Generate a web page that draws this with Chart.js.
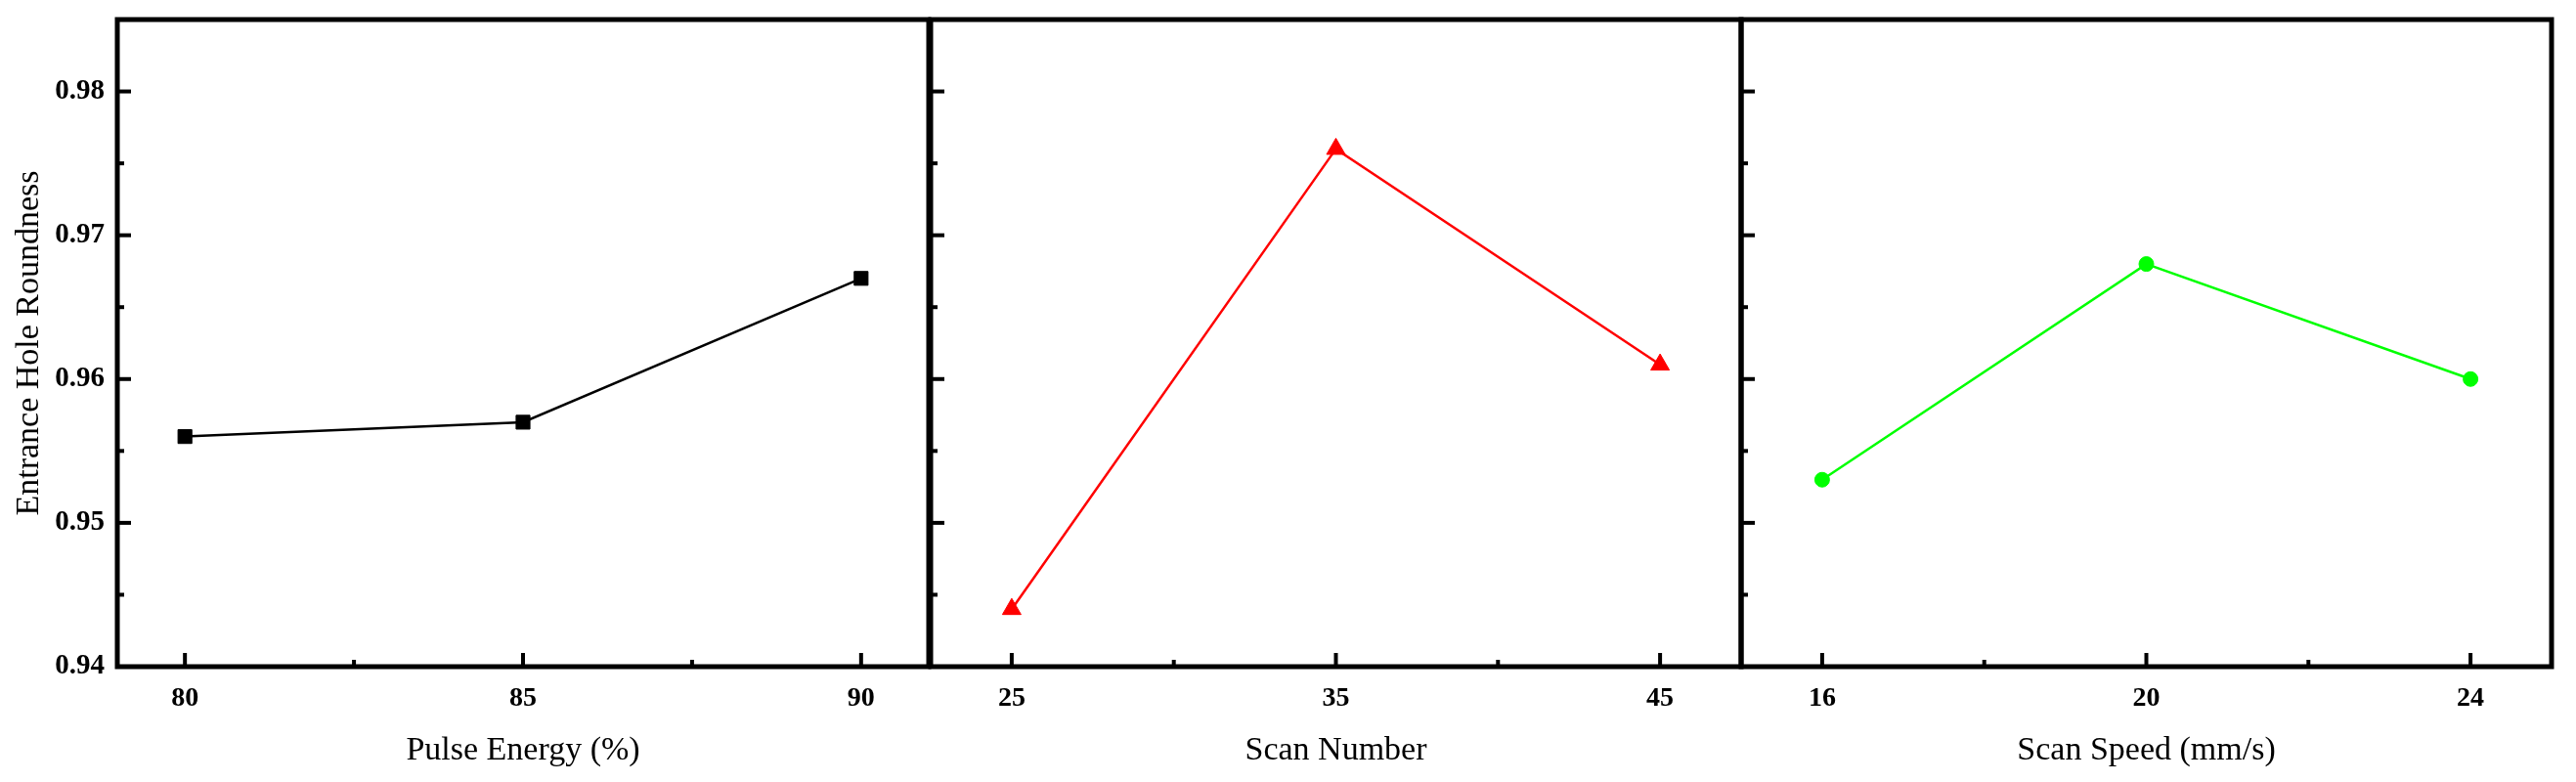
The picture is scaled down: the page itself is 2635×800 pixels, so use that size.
<!DOCTYPE html>
<html>
<head>
<meta charset="utf-8">
<script src="https://cdn.jsdelivr.net/npm/chart.js@4.4.1/dist/chart.umd.min.js"></script>
<style>
  html, body { margin: 0; padding: 0; background: #fff; }
  #wrap { position: relative; width: 2635px; height: 800px; overflow: hidden; }
  canvas { position: absolute; top: 0; }
</style>
</head>
<body>
<div id="wrap">
  <canvas id="energyChart" width="962" height="800" style="left:0px"></canvas>
  <canvas id="numberChart" width="853" height="800" style="left:940px"></canvas>
  <canvas id="speedChart" width="851" height="800" style="left:1771px"></canvas>
</div>
<script>
const energyLevels = [80, 85, 90];
const energyRoundness = [0.956, 0.957, 0.967];
const scanNumbers = [25, 35, 45];
const numberRoundness = [0.944, 0.976, 0.961];
const scanSpeeds = [16, 20, 24];
const speedRoundness = [0.953, 0.968, 0.960];
const roundnessTicks = [0.94, 0.95, 0.96, 0.97, 0.98];

const serif = "'Liberation Serif', 'Times New Roman', serif";

const midpoints = arr => arr.slice(1).map((v, i) => (v + arr[i]) / 2);

// Origin-style frame with inward major/minor ticks
const framePlugin = {
  id: 'frame',
  afterDraw: chart => {
    const {ctx, chartArea: a, scales: {x, y}} = chart;
    const line = (x1, y1, x2, y2) => {
      ctx.beginPath();
      ctx.moveTo(x1, y1);
      ctx.lineTo(x2, y2);
      ctx.stroke();
    };
    ctx.save();
    ctx.strokeStyle = '#000';
    ctx.lineWidth = 4;
    const xv = x.ticks.map(t => t.value);
    const yv = y.ticks.map(t => t.value);
    xv.forEach(v => { const p = x.getPixelForValue(v); line(p, a.bottom, p, a.bottom - 14); });
    midpoints(xv).forEach(v => { const p = x.getPixelForValue(v); line(p, a.bottom, p, a.bottom - 7); });
    yv.forEach(v => { const p = y.getPixelForValue(v); line(a.left, p, a.left + 14, p); });
    midpoints(yv).forEach(v => { const p = y.getPixelForValue(v); line(a.left, p, a.left + 7, p); });
    ctx.lineWidth = 5;
    ctx.strokeRect(a.left, a.top, a.right - a.left, a.bottom - a.top);
    ctx.restore();
  }
};

const makePanel = (id, xValues, yValues, xTitle, xMin, xMax, color, style, radius, first) => {
  return new Chart(document.getElementById(id), {
    type: 'line',
    data: {
      datasets: [{
        data: xValues.map((v, i) => ({x: v, y: yValues[i]})),
        borderColor: color,
        backgroundColor: color,
        borderWidth: 2.5,
        pointStyle: style,
        pointRadius: radius,
        pointBorderWidth: 1,
        pointBorderColor: color,
        pointBackgroundColor: color
      }]
    },
    options: {
      responsive: false,
      animation: false,
      events: [],
      layout: { padding: { top: 20, right: 12, left: 0, bottom: 0 } },
      plugins: { legend: { display: false }, tooltip: { enabled: false } },
      scales: {
        x: {
          type: 'linear',
          min: xMin,
          max: xMax,
          afterBuildTicks: s => { s.ticks = xValues.map(v => ({value: v})); },
          afterFit: s => { s.height = 118; s.paddingLeft = 0; s.paddingRight = 0; },
          grid: { display: false, drawTicks: false },
          border: { display: false },
          ticks: {
            color: '#000',
            font: { family: serif, size: 28, weight: 'bold' },
            padding: 16,
            maxRotation: 0,
            autoSkip: false,
            callback: v => String(v)
          },
          title: {
            display: true,
            text: xTitle,
            color: '#000',
            font: { family: serif, size: 34 },
            padding: { top: 0, bottom: 12 }
          }
        },
        y: {
          min: 0.94,
          max: 0.985,
          afterBuildTicks: s => { s.ticks = roundnessTicks.map(v => ({value: v})); },
          afterFit: s => { s.width = first ? 120 : 10; s.paddingTop = 0; s.paddingBottom = 0; },
          grid: { display: false, drawTicks: false },
          border: { display: false },
          ticks: {
            display: first,
            color: '#000',
            font: { family: serif, size: 29, weight: 'bold' },
            padding: 13,
            callback: v => v.toFixed(2)
          },
          title: {
            display: first,
            text: 'Entrance Hole Roundness',
            color: '#000',
            font: { family: serif, size: 34 },
            padding: { top: 10, bottom: 0 }
          }
        }
      }
    },
    plugins: [framePlugin]
  });
};

makePanel('energyChart', energyLevels, energyRoundness, 'Pulse Energy (%)', 79, 91, '#000000', 'rect', 10, true);
makePanel('numberChart', scanNumbers, numberRoundness, 'Scan Number', 22.5, 47.5, '#ff0000', 'triangle', 11, false);
makePanel('speedChart', scanSpeeds, speedRoundness, 'Scan Speed (mm/s)', 15, 25, '#00ff00', 'circle', 7.5, false);
</script>
</body>
</html>
